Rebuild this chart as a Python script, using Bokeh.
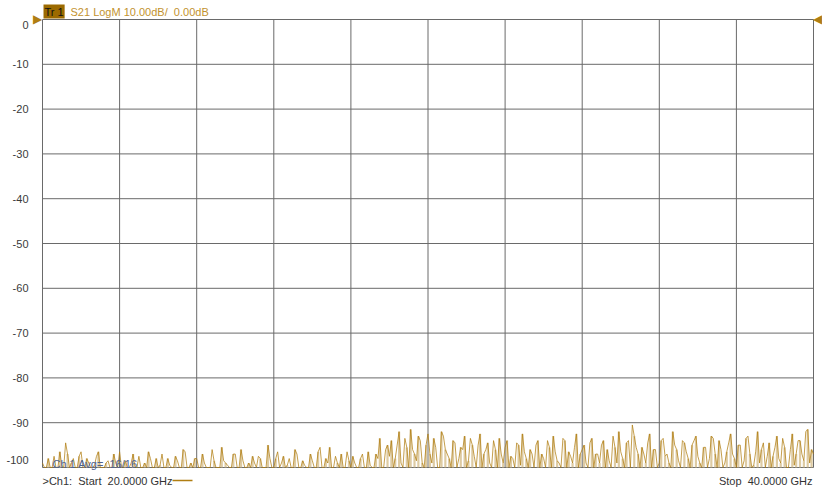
from bokeh.plotting import figure
from bokeh.models import Range1d, Label
from bokeh.embed import file_html
from bokeh.resources import INLINE

# ---------------- data ----------------
freq_start = 20.0
freq_stop = 40.0
y_top = 0.0
y_bottom = -100.0

ytick_values = [0, -10, -20, -30, -40, -50, -60, -70, -80, -90, -100]
ytick_labels = ["0", "-10", "-20", "-30", "-40", "-50", "-60", "-70", "-80", "-90", "-100"]
xgrid_ticks = [20, 22, 24, 26, 28, 30, 32, 34, 36, 38, 40]

# S21 trace (dB), sweep points 20.0 .. 40.0 GHz, 0.1 GHz step
trace_a = [
    -99, -100, -100, -97.5, -100, -99.5, -94.5, -100, -98, -100,
    -96.5, -100, -99, -100, -97.5, -100, -100, -98.5, -100, -99,
    -96.5, -100, -100, -99, -100, -97.5, -100, -100, -98, -100,
    -100, -97, -100, -99.5, -100, -98.5, -100, -96.5, -100, -100,
    -98, -100, -99, -100, -96, -100, -100, -98.5, -99.5, -100,
    -97, -100, -98.5, -100, -100, -99, -97.5, -100, -100, -98,
    -100, -96.5, -99, -100, -98, -100, -97, -100, -99.5, -100,
    -98.5, -100, -95.5, -100, -99, -100, -97.5, -100, -100, -96.5,
    -100, -99, -100, -97, -100, -99.5, -100, -98, -100, -96,
    -97.5, -100, -95, -99, -93.5, -100, -96, -98.5, -94, -100,
    -92.5, -99, -95.5, -100, -93, -97, -100, -94.5, -98, -96,
    -100, -93.5, -97.5, -95, -100, -96, -99, -94, -100, -97,
    -95.5, -100, -98, -94.5, -99.5, -96.5, -100, -97, -95, -100,
    -98, -94, -100, -96.5, -99, -93.5, -100, -97.5, -95.5, -100,
    -96, -99, -94.5, -100, -97, -95, -100, -98.5, -93, -99,
    -96.5, -100, -94, -90.5, -95.5, -100, -97, -94.5, -100, -96,
    -99, -93.5, -97, -100, -95, -98.5, -94, -96.5, -100, -94,
    -97.5, -100, -95.5, -98, -93.5, -100, -96, -99, -94.5, -97,
    -100, -95, -98.5, -93, -100, -96.5, -99, -94.5, -97.5, -100,
    -95.5, -98, -93.5, -100, -96, -99.5, -94, -97, -92, -99,
    -97,
]
# interleaved sweep points 20.05 .. 39.95 GHz
trace_b = [
    -100, -98, -100, -100, -96.5, -100, -97, -99, -100, -97.5,
    -100, -98, -100, -99.5, -96.5, -100, -99, -100, -97, -100,
    -100, -98.5, -100, -97, -100, -100, -99, -96.5, -100, -98,
    -99.5, -100, -98, -100, -97.5, -100, -96, -100, -99, -98,
    -100, -97, -100, -100, -98.5, -100, -95.5, -99, -100, -97,
    -100, -96, -100, -99, -97.5, -100, -98, -100, -95, -100,
    -98, -100, -97.5, -99.5, -100, -96, -100, -98.5, -100, -97,
    -100, -96.5, -100, -98, -95.5, -100, -99, -97, -100, -98.5,
    -97.5, -100, -98, -100, -96.5, -100, -97, -93.5, -100, -95,
    -94, -98, -92, -100, -95.5, -91.5, -97, -93, -99, -95,
    -97, -93.5, -100, -92, -96, -98, -94, -100, -95.5, -93,
    -98.5, -95, -100, -92.5, -97, -94.5, -100, -96, -93.5, -99,
    -94, -97.5, -100, -95, -92.5, -98, -96, -100, -94, -97,
    -100, -95.5, -93, -98.5, -100, -94, -96.5, -99, -92.5, -97,
    -95, -100, -93.5, -97, -99, -94, -96, -100, -95.5, -92,
    -98, -94.5, -100, -93, -97, -95.5, -99, -92.5, -96, -100,
    -94, -97.5, -99, -92, -96, -100, -94.5, -98, -95, -93,
    -99, -95.5, -100, -93, -97, -94, -100, -96.5, -92.5, -98,
    -95, -100, -93.5, -97, -99.5, -92, -96, -100, -94.5, -97.5,
    -93, -99, -95.5, -100, -92.5, -97, -94, -98.5, -91.5, -96,
]

step = (freq_stop - freq_start) / (len(trace_a) - 1)
freq_a = [freq_start + i * step for i in range(len(trace_a))]
freq_b = [freq_start + (i + 0.5) * step for i in range(len(trace_b))]

# full sweep: interleave both point sets in frequency order
sweep_f, sweep_v = [], []
for i in range(len(trace_a)):
    sweep_f.append(freq_a[i]); sweep_v.append(trace_a[i])
    if i < len(trace_b):
        sweep_f.append(freq_b[i]); sweep_v.append(trace_b[i])

# ---------------- layout (pixel geometry of the graticule) ----------------
W, H = 822, 489
GL, GR, GT, GB = 42, 813, 19, 467          # graticule edges in canvas pixels
gx = (freq_stop - freq_start) / (GR - GL)  # GHz per pixel
gy = (y_top - y_bottom) / (GB - GT)        # dB per pixel
x_rng = Range1d(freq_start - GL * gx, freq_stop + (W - GR) * gx)
y_rng = Range1d(y_bottom - (H - GB) * gy, y_top + GT * gy)

FONT = "Liberation Sans"
FS = "11px"
GOLD = "#B07E12"
GRID = "#6a6a6a"
NB = "\u00a0"

p = figure(width=W, height=H, x_range=x_rng, y_range=y_rng,
           x_axis_location=None, y_axis_location=None,
           output_backend="svg", toolbar_location=None,
           min_border=0)
p.background_fill_color = "white"
p.border_fill_color = "white"
p.outline_line_color = None
for g in p.grid:
    g.visible = False

# graticule
p.segment(x0=xgrid_ticks, y0=[y_bottom] * len(xgrid_ticks), x1=xgrid_ticks, y1=[y_top] * len(xgrid_ticks),
          line_color=GRID, line_width=1)
p.segment(x0=[freq_start] * len(ytick_values), y0=ytick_values, x1=[freq_stop] * len(ytick_values), y1=ytick_values,
          line_color=GRID, line_width=1)

# trace (light comb for the in-between points, dark gold sweep line on top)
p.segment(x0=freq_b, y0=[y_bottom] * len(freq_b), x1=freq_b, y1=trace_b,
          line_color="#D6BE8C", line_width=2.2, line_alpha=0.8)
p.line(sweep_f, sweep_v, line_color=GOLD, line_width=0.8, line_alpha=0.95)

# y tick labels
for v, t in zip(ytick_values, ytick_labels):
    yoff = 0
    if v == ytick_values[0]:
        yoff = -5
    elif v == ytick_values[-1]:
        yoff = 8
    p.add_layout(Label(x=freq_start, y=v, text=t, x_offset=-14, y_offset=yoff,
                       text_align="right", text_baseline="middle",
                       text_font=FONT, text_font_size=FS, text_color="#3a3a3a"))

# header
p.add_layout(Label(x=freq_start, y=y_top, text="Tr" + NB + "1", x_offset=1, y_offset=8,
                   text_align="left", text_baseline="middle",
                   text_font=FONT, text_font_size=FS, text_color="#111111",
                   background_fill_color="#9C6A00", padding=1))
p.add_layout(Label(x=freq_start, y=y_top, text="S21 LogM 10.00dB/" + NB + NB + "0.00dB", x_offset=28, y_offset=8,
                   text_align="left", text_baseline="middle",
                   text_font=FONT, text_font_size=FS, text_color="#C2922E"))

# reference markers
p.add_layout(Label(x=freq_start, y=y_top, text="\u25B6", x_offset=-5, y_offset=1,
                   text_align="center", text_baseline="middle",
                   text_font="DejaVu Sans", text_font_size="12px", text_color=GOLD))
p.add_layout(Label(x=freq_stop, y=y_top, text="\u25C0", x_offset=4, y_offset=1,
                   text_align="center", text_baseline="middle",
                   text_font="DejaVu Sans", text_font_size="12px", text_color=GOLD))

# channel info
p.add_layout(Label(x=freq_start, y=y_bottom, text="Ch 1 Avg=" + NB + NB + "16/16", x_offset=10, y_offset=4,
                   text_align="left", text_baseline="middle",
                   text_font=FONT, text_font_size=FS, text_color="#4D6290"))
p.add_layout(Label(x=freq_start, y=y_bottom, text=">Ch1:" + NB + NB + "Start" + NB + NB + "20.0000 GHz",
                   x_offset=0, y_offset=-13,
                   text_align="left", text_baseline="middle",
                   text_font=FONT, text_font_size=FS, text_color="#333333"))
p.segment(x0=[freq_start + (172 - GL) * gx], y0=[y_bottom - 13 * gy],
          x1=[freq_start + (192 - GL) * gx], y1=[y_bottom - 13 * gy],
          line_color=GOLD, line_width=1.5)
p.add_layout(Label(x=freq_stop, y=y_bottom, text="Stop" + NB + NB + "40.0000 GHz", x_offset=-1, y_offset=-13,
                   text_align="right", text_baseline="middle",
                   text_font=FONT, text_font_size=FS, text_color="#333333"))

open("out.html", "w").write(file_html(p, INLINE))
